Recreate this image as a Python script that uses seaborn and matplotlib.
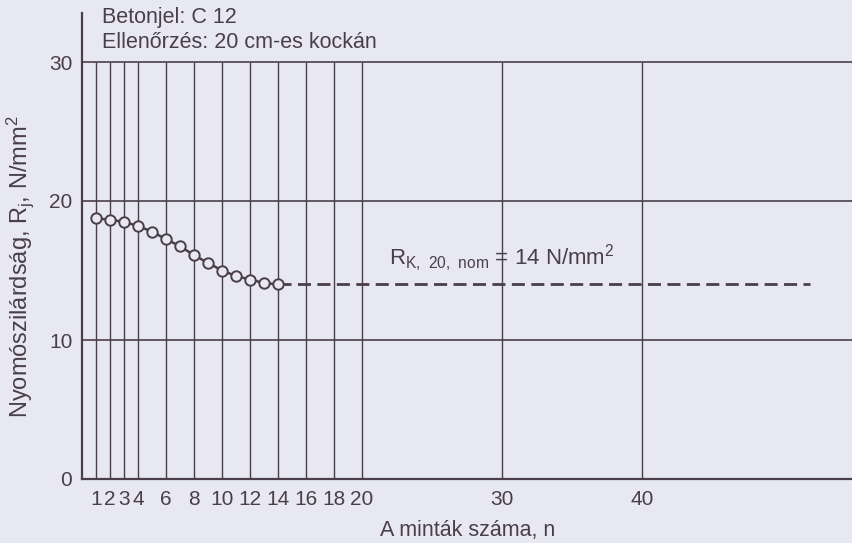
import matplotlib
matplotlib.use("Agg")
import matplotlib.pyplot as plt
import seaborn as sns
import pandas as pd

# Running characteristic strength vs. number of samples
n_samples = [1, 2, 3, 4, 5, 6, 7, 8, 9, 10, 11, 12, 13, 14]
strength = [18.75, 18.65, 18.5, 18.2, 17.8, 17.25, 16.75, 16.1, 15.55,
            15.0, 14.6, 14.35, 14.1, 14.0]

nominal_value = 14
nominal_range = [14, 52]

x_gridlines = [1, 2, 3, 4, 6, 8, 10, 12, 14, 16, 18, 20, 30, 40]
x_ticks = [1, 2, 3, 4, 6, 8, 10, 12, 14, 16, 18, 20, 30, 40]
y_ticks = [0, 10, 20, 30]

ink = "#4a3f49"
paper = "#e8e8f2"
font = "Liberation Sans"

sns.set_theme(style="white")
plt.rcParams["font.family"] = [font, "DejaVu Sans"]
plt.rcParams["mathtext.default"] = "regular"

fig = plt.figure(figsize=(8.53, 5.43), dpi=100, facecolor=paper)
ax = fig.add_axes([82 / 853, 64 / 543, 771 / 853, 466 / 543])
ax.set_facecolor(paper)

ax.set_xlim(0, 771 / 14)
ax.set_ylim(0, 466 / 13.9)

# grid: horizontals across the full width, verticals up to 30
for yv in y_ticks[1:]:
    ax.axhline(yv, color=ink, lw=1.2, zorder=1)
ax.vlines(x_gridlines, 0, 30, color=ink, lw=1.0, zorder=1)

df = pd.DataFrame({"n": n_samples, "R": strength})
sns.lineplot(data=df, x="n", y="R", ax=ax, color=ink, lw=1.8,
             marker="o", markersize=7.5, markerfacecolor=paper,
             markeredgecolor=ink, markeredgewidth=1.4, zorder=3)

ax.plot(nominal_range, [nominal_value, nominal_value], color=ink, lw=2.0,
        dashes=(4.7, 2.3), zorder=2)

ax.text(21.9, 15.9, r"$R_{K,\ 20,\ nom}$ = %d N/mm$^2$" % nominal_value,
        fontsize=16, color=ink, va="center", ha="left", zorder=4)

fig.text(102 / 853, 1 - 17 / 543, "Betonjel: C 12", fontsize=15.5, color=ink,
         va="center", ha="left")
fig.text(102 / 853, 1 - 42 / 543, "Ellenőrzés: 20 cm-es kockán",
         fontsize=15.5, color=ink, va="center", ha="left")

ax.set_xticks(x_ticks)
ax.set_xticklabels([str(t) for t in x_ticks])
ax.set_yticks(y_ticks)
ax.tick_params(axis="both", length=0, labelsize=15, colors=ink)
ax.tick_params(axis="x", pad=8)
ax.tick_params(axis="y", pad=7)

ax.set_xlabel("A minták száma, n", fontsize=15.5, color=ink)
ax.set_ylabel(r"Nyomószilárdság, $R_j$, N/mm$^2$", fontsize=17, color=ink)
ax.xaxis.set_label_coords(0.5, -0.088)
ax.yaxis.set_label_coords(-0.060, 0.455)

for side in ["top", "right"]:
    ax.spines[side].set_visible(False)
for side in ["left", "bottom"]:
    ax.spines[side].set_color(ink)
    ax.spines[side].set_linewidth(1.6)

fig.savefig("out.png", dpi=100, facecolor=paper)
